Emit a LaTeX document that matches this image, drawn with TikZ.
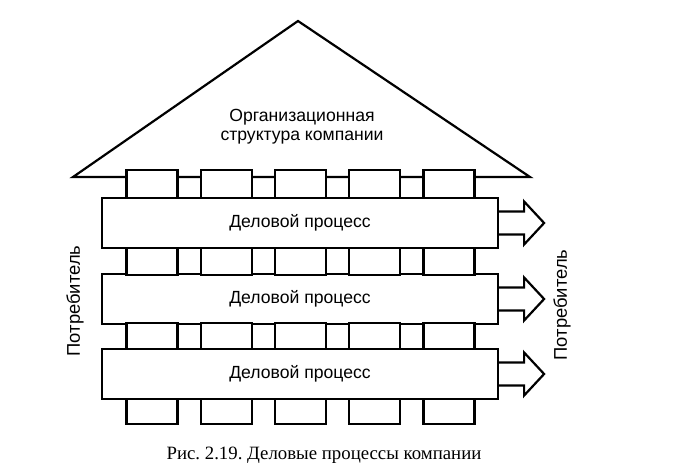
\documentclass[tikz,border=0pt]{standalone}
\usepackage{fontspec}
\setmainfont{Liberation Sans}
\newfontfamily\capfont{Liberation Serif}
\usetikzlibrary{positioning}
\tikzstyle{process} = [rectangle, draw, fill=white, line width=1.1pt, minimum width=198pt, minimum height=25pt, inner sep=0pt, font=\fontsize{8.8}{9.5}\selectfont]
\tikzstyle{pillar} = [rectangle, draw, fill=white, line width=1.1pt, minimum width=25.5pt, inner sep=0pt]
\tikzstyle{outarrow} = [line width=1.1pt, line join=miter]

\begin{document}
\frenchspacing
\begin{tikzpicture}[x=0.5pt, y=-0.5pt]
\useasboundingbox (0,0) rectangle (679,471);
% roof
\coordinate (roofl) at (73,177);
\coordinate (rooft) at (298,21);
\coordinate (roofr) at (530,177);
\draw[line width=1.1pt, line join=miter] (roofl) -- (rooft) -- (roofr) -- cycle;
\node[align=center, font=\fontsize{8.8}{9.5}\selectfont] (org) at (302,127) {Организационная\\структура компании};

% business processes
\node[process] (proc1) at (300,223) {Деловой процесс};
\node[process] (proc2) at (300,299) {Деловой процесс};
\node[process] (proc3) at (300,374) {Деловой процесс};

% pillars
\foreach \i in {0,...,4}{
     \node[pillar, minimum height=14pt] (top\i) at (152+74.25*\i,184) {};
     \node[pillar, minimum height=13.5pt] (mida\i) at (152+74.25*\i,261.5) {};
     \node[pillar, minimum height=13pt] (midb\i) at (152+74.25*\i,336) {};
     \node[pillar, minimum height=12.5pt] (bot\i) at (152+74.25*\i,411.5) {};
}

% arrows
\foreach \p in {proc1,proc2,proc3}{
     \draw[outarrow] (\p.east) ++(0,-11.5) -- ++(25,0) -- ++(0,-10) -- ++(20,21.5) -- ++(-20,21.5) -- ++(0,-10) -- ++(-25,0);
}

% consumers
\node[rotate=90, font=\fontsize{9.2}{10}\selectfont] (consl) at (75,301) {Потребитель};
\node[rotate=90, font=\fontsize{9.2}{10}\selectfont] (consr) at (562,305) {Потребитель};

\node[font=\capfont\fontsize{9.4}{11}\selectfont] (caption) at (324,455) {Рис. 2.19. Деловые процессы компании};
\end{tikzpicture}
\end{document}
